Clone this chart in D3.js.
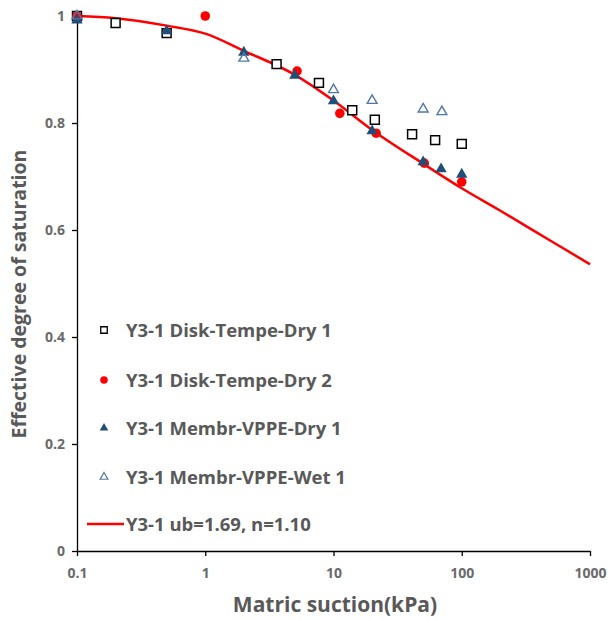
<!DOCTYPE html>
<html>
<head>
<meta charset="utf-8">
<script src="https://cdn.jsdelivr.net/npm/d3@7"></script>
<style>
  html, body { margin: 0; padding: 0; background: #fff; }
  svg { display: block; }
  text { font-family: "Open Sans", Lato, sans-serif; }
</style>
</head>
<body>
<svg id="chart" width="609" height="619"></svg>
<script>
// Matric suction (kPa) vs effective degree of saturation, series Y3-1
const diskDry1 = [[0.1, 1.0], [0.2, 0.987], [0.5, 0.968], [3.6, 0.910], [7.7, 0.875],
                  [14, 0.824], [21, 0.806], [41, 0.779], [62, 0.768], [100, 0.761]];
const diskDry2 = [[0.1, 1.0], [1, 1.0], [5.2, 0.897], [11.2, 0.818], [21.5, 0.781],
                  [51, 0.725], [100, 0.690]];
const membrDry1 = [[0.1, 0.992], [0.5, 0.972], [2, 0.932], [5, 0.889], [10, 0.841],
                   [20, 0.785], [50, 0.727], [69, 0.714], [100, 0.704]];
const membrWet1 = [[0.1, 1.0], [2, 0.921], [10, 0.862], [20, 0.842], [50, 0.826], [70, 0.821]];
const fitCurve = [[0.1, 1.0], [0.2, 0.996], [0.5, 0.982], [1, 0.967], [2, 0.935], [5, 0.890],
                  [10, 0.842], [20, 0.787], [50, 0.724], [100, 0.678], [200, 0.636],
                  [500, 0.579], [1000, 0.536]];
const xTicks = [0.1, 1, 10, 100, 1000];
const xTickLabels = ["0.1", "1", "10", "100", "1000"];
const yTicks = [0, 0.2, 0.4, 0.6, 0.8, 1];
const yTickLabels = ["0", "0.2", "0.4", "0.6", "0.8", "1"];
const legendLabels = ["Y3-1 Disk-Tempe-Dry 1", "Y3-1 Disk-Tempe-Dry 2",
                      "Y3-1 Membr-VPPE-Dry 1", "Y3-1 Membr-VPPE-Wet 1",
                      "Y3-1 ub=1.69, n=1.10"];

const svg = d3.select("#chart");
const plotLeft = 77, plotRight = 590, plotTop = 16, plotBottom = 551;
const x = d3.scaleLog().domain([0.1, 1000]).range([plotLeft, plotRight]);
const y = d3.scaleLinear().domain([0, 1]).range([plotBottom, plotTop]);

const textGray = "#595959";
const blue = "#1f4e79";
const lightBlue = "#4f78a8";

// axes
const xAxis = d3.axisBottom(x).tickValues(xTicks).tickFormat((d, i) => xTickLabels[i])
  .tickSizeInner(5).tickSizeOuter(0).tickPadding(12);
const yAxis = d3.axisLeft(y).tickValues(yTicks).tickFormat((d, i) => yTickLabels[i])
  .tickSizeInner(5).tickSizeOuter(0).tickPadding(7);

const gx = svg.append("g").attr("transform", `translate(0,${plotBottom})`).call(xAxis);
const gy = svg.append("g").attr("transform", `translate(${plotLeft},0)`).call(yAxis);
[gx, gy].forEach(g => {
  g.select(".domain").attr("stroke", "#000").attr("stroke-width", 1.3);
  g.selectAll(".tick line").attr("stroke", "#000").attr("stroke-width", 1.3);
  g.selectAll(".tick text").attr("fill", "#6a6a6a").attr("font-size", 14)
    .attr("font-weight", "bold").style("font-family", "'Open Sans', sans-serif");
});

// axis titles
svg.append("text").attr("x", 335).attr("y", 612)
  .attr("text-anchor", "middle").attr("fill", textGray)
  .attr("font-size", 21).attr("font-weight", "bold").text("Matric suction(kPa)");
svg.append("text").attr("transform", `translate(26,294) rotate(-90)`)
  .attr("text-anchor", "middle").attr("fill", textGray)
  .attr("font-size", 19.5).attr("font-weight", "bold").text("Effective degree of saturation");

// fitted curve
const line = d3.line().x(d => x(d[0])).y(d => y(d[1])).curve(d3.curveMonotoneX);
svg.append("path").datum(fitCurve).attr("d", line)
  .attr("fill", "none").attr("stroke", "#ff0000").attr("stroke-width", 2.5);

// markers
const sq = d3.symbol().type(d3.symbolSquare).size(80);
const circ = d3.symbol().type(d3.symbolCircle).size(72);
const triF = d3.symbol().type(d3.symbolTriangle).size(56);
const triO = d3.symbol().type(d3.symbolTriangle).size(42);

function drawSeries(data, sym, fill, stroke, sw) {
  svg.append("g").selectAll("path").data(data).join("path")
    .attr("transform", d => `translate(${x(d[0])},${y(d[1])})`)
    .attr("d", sym).attr("fill", fill).attr("stroke", stroke).attr("stroke-width", sw);
}
drawSeries(diskDry1, sq, "#fff", "#000", 1.5);
drawSeries(diskDry2, circ, "#ff0000", "none", 0);
drawSeries(membrDry1, triF, blue, "none", 0);
drawSeries(membrWet1, triO, "none", lightBlue, 1.4);

// legend
const legX = 104, legText = 126;
const legY = [330, 380, 428, 477, 524];
const legSyms = [
  { sym: d3.symbol().type(d3.symbolSquare).size(42), fill: "#fff", stroke: "#000", sw: 1.3 },
  { sym: d3.symbol().type(d3.symbolCircle).size(45), fill: "#ff0000", stroke: "none", sw: 0 },
  { sym: d3.symbol().type(d3.symbolTriangle).size(32), fill: blue, stroke: "none", sw: 0 },
  { sym: d3.symbol().type(d3.symbolTriangle).size(26), fill: "none", stroke: lightBlue, sw: 1.2 }
];
legSyms.forEach((s, i) => {
  svg.append("path").attr("transform", `translate(${legX},${legY[i]})`)
    .attr("d", s.sym).attr("fill", s.fill).attr("stroke", s.stroke).attr("stroke-width", s.sw);
});
svg.append("line").attr("x1", 87).attr("x2", 124).attr("y1", legY[4]).attr("y2", legY[4])
  .attr("stroke", "#ff0000").attr("stroke-width", 2.5);
legendLabels.forEach((t, i) => {
  svg.append("text").attr("x", legText).attr("y", legY[i]).attr("dy", "0.36em")
    .attr("fill", textGray).attr("font-size", 18.5).attr("font-weight", "bold").text(t);
});
</script>
</body>
</html>
